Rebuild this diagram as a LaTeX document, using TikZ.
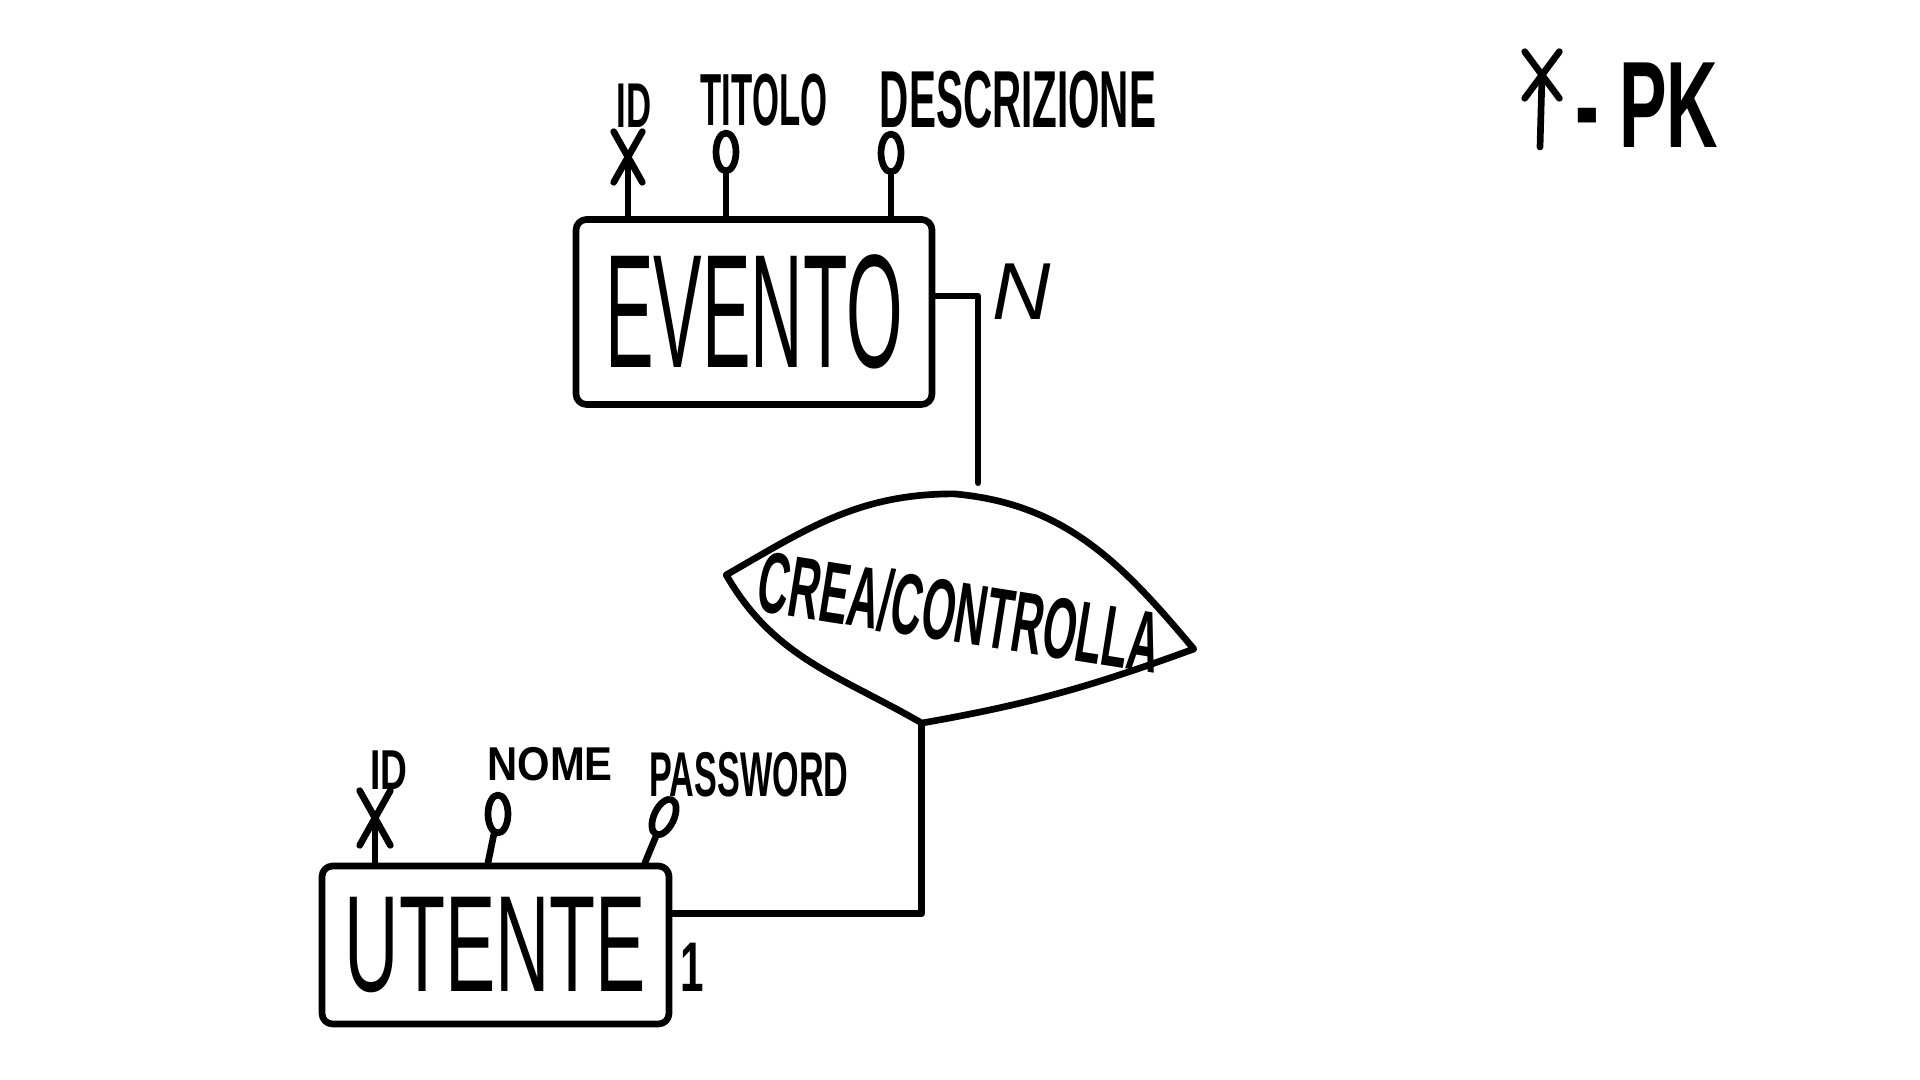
\documentclass[tikz,border=0pt]{standalone}
\usepackage{fontspec}
\setmainfont{Liberation Sans}
\usetikzlibrary{shapes.geometric,shapes.misc,positioning,calc}
\newcommand{\squeeze}[2]{\scalebox{#1}[1]{#2}}
\tikzset{
  pen/.style={line width=1.9pt,line cap=round,line join=round},
  entity/.style={rectangle,rounded corners=3pt,draw,pen,inner sep=0pt},
  hand/.style={inner sep=0pt,font=\fontsize{#1}{#1}\selectfont},
  handbf/.style={inner sep=0pt,font=\fontsize{#1}{#1}\selectfont\bfseries},
  keymark/.style={cross out,draw,pen,inner sep=0pt,
                  minimum width=0.22cm,minimum height=0.44cm},
  attrmark/.style={ellipse,draw,pen,inner sep=0pt,
                   minimum width=0.2cm,minimum height=0.38cm},
}
\begin{document}
\begin{tikzpicture}
  \useasboundingbox (0,0) rectangle (19.2,10.8);

  % entities
  \node[entity,minimum width=3.56cm,minimum height=1.85cm,hand=46]
    (evento) at (7.54,7.68) {\squeeze{0.45}{EVENTO}};
  \node[entity,minimum width=3.47cm,minimum height=1.58cm,hand=39]
    (utente) at (4.955,1.35) {\squeeze{0.55}{UTENTE}};

  % relationship
  \node[rotate=-9,minimum width=4.72cm,minimum height=2.3cm,handbf=24.6]
    (crea) at (9.6,4.68) {\squeeze{0.5}{CREA/CONTROLLA}};
  \draw[pen] (crea.west) to[out=30,in=180] (crea.102)
    to[out=-5,in=130] (crea.east) to[out=200,in=10] (crea.-100)
    to[out=150,in=-60] (crea.west);

  % connectors
  \draw[pen] (evento.5) -| ([yshift=0.15cm]crea.north);
  \draw[pen] (crea.-100) |- (utente.10);
  \node[hand=23,font=\fontsize{23}{23}\selectfont\itshape] (cardN) at (10.22,7.88) {N};
  \node[handbf=20] (card1) at (6.92,1.13) {\squeeze{0.6}{1}};

  % attributes of EVENTO
  \node[keymark] (idE) at (6.28,9.23) {};
  \draw[pen] (idE.center) -- (idE.center |- evento.north);
  \node[attrmark] (titolo) at (7.26,9.28) {};
  \draw[pen] (titolo) -- (titolo |- evento.north);
  \node[attrmark] (descr) at (8.91,9.27) {};
  \draw[pen] (descr) -- (descr |- evento.north);
  \node[handbf=18] (idElbl) at (6.34,9.74) {\squeeze{0.55}{ID}};
  \node[handbf=21] (titololbl) at (7.64,9.80) {\squeeze{0.47}{TITOLO}};
  \node[handbf=23] (descrlbl) at (10.18,9.80) {\squeeze{0.5}{DESCRIZIONE}};

  % attributes of UTENTE
  \node[keymark,minimum width=0.24cm,minimum height=0.48cm] (idU) at (3.75,2.62) {};
  \draw[pen] (idU.center) -- (idU.center |- utente.north);
  \node[attrmark] (nome) at (4.98,2.66) {};
  \draw[pen] (nome) -- ($(nome |- utente.north)+(-0.1,0)$);
  \node[attrmark,rotate=-25] (passwd) at (6.64,2.63) {};
  \draw[pen] (passwd) -- ($(passwd |- utente.north)+(-0.19,0)$);
  \node[handbf=16] (idUlbl) at (3.89,3.10) {\squeeze{0.66}{ID}};
  \node[handbf=13.5] (nomelbl) at (5.50,3.16) {\squeeze{0.88}{NOME}};
  \node[handbf=18] (passwdlbl) at (7.49,3.05) {\squeeze{0.54}{PASSWORD}};

  % legend
  \node[keymark,minimum width=0.28cm,minimum height=0.4cm] (keyX) at (15.42,10.05) {};
  \coordinate (keyfoot) at (15.40,9.33);
  \draw[pen] (keyX.center) -- (keyfoot);
  \node[handbf=35,anchor=west] (pk) at (15.75,9.75) {\squeeze{0.58}{- PK}};
\end{tikzpicture}
\end{document}
